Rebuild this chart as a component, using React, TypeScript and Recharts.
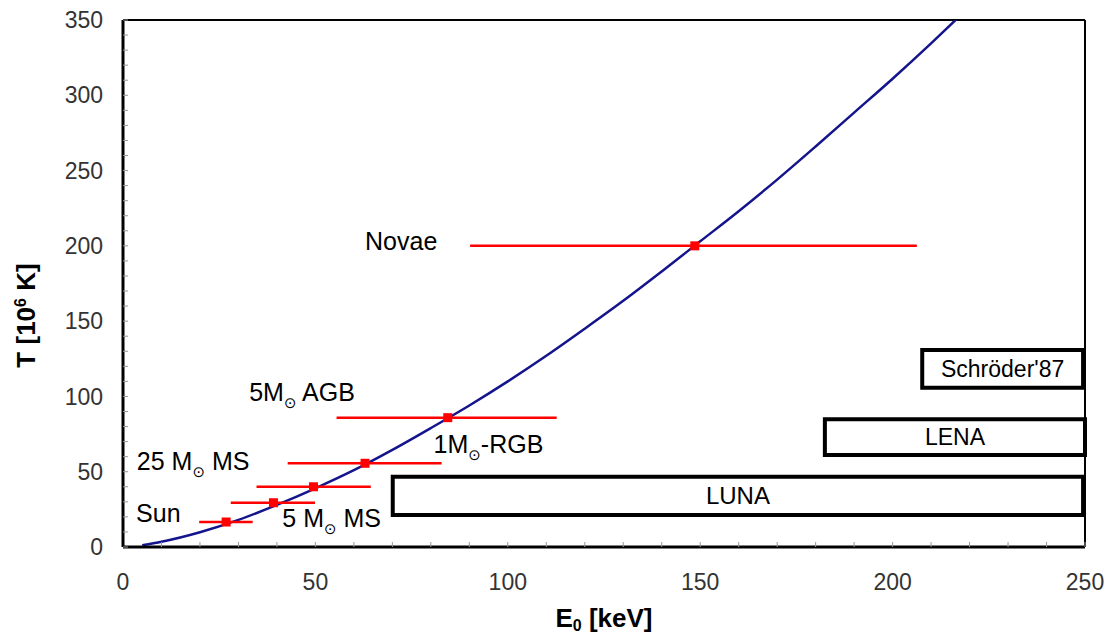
import {
  ComposedChart,
  Line,
  Scatter,
  ErrorBar,
  XAxis,
  YAxis,
  ReferenceArea,
  ReferenceLine,
} from "recharts";

// Gamow peak curve
const curveE = [5, 10, 20, 30, 40, 50, 60, 70, 80, 90, 100, 110, 120, 130, 140, 150, 160, 170, 180, 190, 200, 210, 217];
const curveT = [1.2, 3.5, 9.8, 18, 28, 39, 51, 64.5, 79, 94, 110, 127, 145, 163.5, 183, 203, 223, 244, 266, 288.5, 311, 334.5, 351.5];

// stellar sites: centre and energy window
const starE = [26.8, 39.1, 49.5, 62.9, 84.4, 148.6];
const starT = [16.6, 29.4, 40.0, 55.6, 85.9, 200];
const starLow = [19.8, 28.0, 34.7, 42.8, 55.5, 90.2];
const starHigh = [33.7, 49.9, 64.4, 82.8, 112.7, 206.3];

// text labels (left edge, baseline)
const noteE = [62.9, 32.8, 80.7, 3.6, 3.4, 41.4];
const noteT = [197.2, 96.7, 62.5, 51.1, 16.8, 13.5];
const notePre = ["Novae", "5M", "1M", "25 M", "Sun", "5 M"];
const notePost = ["", " AGB", "-RGB", " MS", "", " MS"];

// accelerator ranges
const boxNames = ["LUNA", "LENA", "Schröder'87"];
const boxE1 = [70.1, 182.4, 207.7];
const boxE2 = [249.5, 250, 249.5];
const boxT1 = [21.2, 61.1, 105.8];
const boxT2 = [46.7, 84.8, 130.8];

const xTicks = Array.from({ length: 26 }, (_, i) => i * 10);
const yTicks = Array.from({ length: 36 }, (_, i) => i * 10);

const curve = curveE.map((E, i) => ({ E, T: curveT[i] }));
const stars = starE.map((E, i) => ({
  E,
  T: starT[i],
  xErr: [E - starLow[i], starHigh[i] - E],
}));
const notes = noteE.map((E, i) => ({
  E,
  T: noteT[i],
  pre: notePre[i],
  post: notePost[i],
  sun: notePost[i] !== "",
}));

const FONT = "'Liberation Sans', Arial, sans-serif";

const NoteShape = (props: any) => {
  const { cx, cy, payload } = props;
  return (
    <text x={cx} y={cy} fontSize={25} fill="#000" fontFamily={FONT}>
      {payload.pre}
      {payload.sun && (
        <tspan fontSize={15} dy={7} fontFamily="'DejaVu Sans', sans-serif">
          ⊙
        </tspan>
      )}
      {payload.sun ? <tspan dy={-7}>{payload.post}</tspan> : null}
    </text>
  );
};

const StarShape = (props: any) => {
  const { cx, cy } = props;
  return <rect x={cx - 4.5} y={cy - 4.5} width={9} height={9} fill="#ff0000" />;
};

const XLabel = (props: any) => {
  const { x, y, width } = props.viewBox;
  return (
    <text x={x + width / 2} y={y + 80} textAnchor="middle" fontSize={26} fontWeight="bold" fill="#000" fontFamily={FONT}>
      E<tspan fontSize={16} dy={4}>0</tspan>
      <tspan dy={-4}> [keV]</tspan>
    </text>
  );
};

const YLabel = (props: any) => {
  const { x, y, height } = props.viewBox;
  const cx = x + 18;
  const cy = y + height / 2 + 32;
  return (
    <text
      transform={`translate(${cx},${cy}) rotate(-90)`}
      textAnchor="middle"
      dy="0.35em"
      fontSize={26}
      fontWeight="bold"
      fill="#000"
      fontFamily={FONT}
    >
      T [10<tspan fontSize={16} dy={-9}>6</tspan>
      <tspan dy={9}> K]</tspan>
    </text>
  );
};

export default function App() {
  return (
    <div style={{ fontFamily: FONT }}>
      <ComposedChart width={1105} height={628} margin={{ top: 12, right: 28, bottom: 0, left: 0 }}>
        <XAxis
          type="number"
          dataKey="E"
          domain={[0, 250]}
          ticks={xTicks}
          interval={0}
          allowDataOverflow
          tickFormatter={(v: number) => (v % 50 === 0 ? String(v) : "")}
          tickSize={-5}
          tickMargin={32}
          tickLine={{ stroke: "#999" }}
          axisLine={{ stroke: "#000", strokeWidth: 3 }}
          tick={{ fill: "#333", fontSize: 23 }}
          height={89}
          label={XLabel}
        />
        <YAxis
          type="number"
          dataKey="T"
          domain={[0, 350]}
          ticks={yTicks}
          interval={0}
          allowDataOverflow
          tickFormatter={(v: number) => (v % 50 === 0 ? String(v) : "")}
          tickSize={-5}
          tickMargin={25}
          tickLine={{ stroke: "#999" }}
          axisLine={{ stroke: "#000", strokeWidth: 3 }}
          tick={{ fill: "#333", fontSize: 23 }}
          width={115}
          label={YLabel}
        />
        <ReferenceLine y={350} stroke="#000" strokeWidth={2} />
        <ReferenceLine x={250} stroke="#000" strokeWidth={2} />
        {boxNames.map((name, i) => (
          <ReferenceArea
            key={name}
            x1={boxE1[i]}
            x2={boxE2[i]}
            y1={boxT1[i]}
            y2={boxT2[i]}
            fill="#fff"
            fillOpacity={1}
            stroke="#000"
            strokeWidth={4}
            label={{ value: name, position: "center", fill: "#000", fontSize: i === 0 ? 24 : 23 }}
          />
        ))}
        <Line
          data={curve}
          dataKey="T"
          type="monotone"
          stroke="#14148c"
          strokeWidth={2.5}
          dot={false}
          isAnimationActive={false}
        />
        <Scatter data={stars} dataKey="T" shape={StarShape} isAnimationActive={false}>
          <ErrorBar dataKey="xErr" direction="x" width={0} stroke="#ff0000" strokeWidth={2.5} isAnimationActive={false} />
        </Scatter>
        <Scatter data={notes} dataKey="T" shape={NoteShape} isAnimationActive={false} />
      </ComposedChart>
    </div>
  );
}
